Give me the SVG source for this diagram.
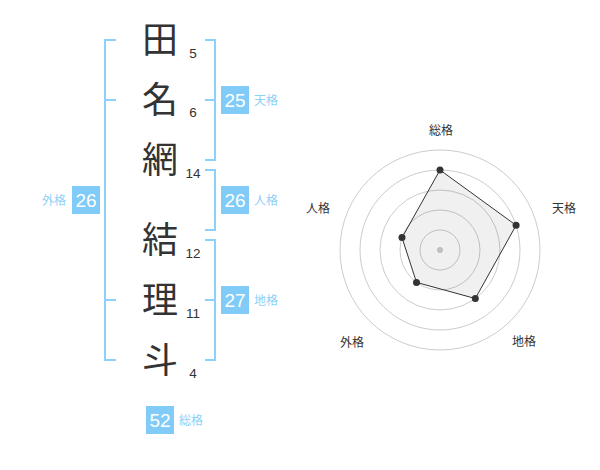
<svg xmlns="http://www.w3.org/2000/svg" width="600" height="470" viewBox="0 0 600 470">
<style>
.kanji{font-family:"Noto Sans CJK JP","Noto Sans CJK SC",sans-serif;font-size:36px;fill:#333;text-anchor:middle}
.num{font-family:"Liberation Sans",Arial,sans-serif;font-size:13.5px;fill:#333;text-anchor:middle}
.br{fill:none;stroke:#8dd0f8;stroke-width:2}
.badge{fill:#80cbf7}
.bt{font-family:"Liberation Sans",Arial,sans-serif;font-size:19px;fill:#fff;text-anchor:middle}
.lab{font-family:"Noto Sans CJK JP",sans-serif;font-size:12px;fill:#8dd0f8}
.ring{fill:none;stroke:#ccc;stroke-width:1}
.rl{font-family:"Noto Sans CJK JP",sans-serif;font-size:12px;fill:#333;text-anchor:middle}
.dot{fill:#333}
</style>
<rect width="600" height="470" fill="#fff"/>
<g id="connectors">
<path class="br" d="M116,40 H105 V360 H116 M105,100 H116 M105,300 H116"/>
<path class="br" d="M205,40 H215 V160 H205 M205,100 H215"/>
<path class="br" d="M205,170 H215 V230 H205"/>
<path class="br" d="M205,240 H215 V360 H205 M205,300 H215"/>
</g>
<g id="name">
<text class="kanji" x="160" y="53">田</text>
<text class="kanji" x="160" y="113">名</text>
<text class="kanji" x="160" y="173">網</text>
<text class="kanji" x="160" y="253">結</text>
<text class="kanji" x="160" y="313">理</text>
<text class="kanji" x="160" y="373">斗</text>
<text class="num" x="193" y="58">5</text>
<text class="num" x="193" y="117">6</text>
<text class="num" x="193" y="178">14</text>
<text class="num" x="193" y="258">12</text>
<text class="num" x="193" y="318">11</text>
<text class="num" x="193" y="378">4</text>
</g>
<g id="tenkaku">
<rect class="badge" x="221" y="86" width="28" height="28"/>
<text class="bt" x="235" y="107">25</text>
<text class="lab" x="254" y="105">天格</text>
</g>
<g id="jinkaku">
<rect class="badge" x="221" y="186" width="28" height="28"/>
<text class="bt" x="235" y="207">26</text>
<text class="lab" x="254" y="205">人格</text>
</g>
<g id="chikaku">
<rect class="badge" x="221" y="286" width="28" height="28"/>
<text class="bt" x="235" y="307">27</text>
<text class="lab" x="254" y="305">地格</text>
</g>
<g id="gaikaku">
<rect class="badge" x="72" y="186" width="28" height="28"/>
<text class="bt" x="86" y="207">26</text>
<text class="lab" x="42" y="205">外格</text>
</g>
<g id="soukaku">
<rect class="badge" x="146" y="406" width="28" height="28"/>
<text class="bt" x="160" y="427">52</text>
<text class="lab" x="179" y="425">総格</text>
</g>
<g id="radar">
<circle class="ring" cx="440" cy="250" r="20"/>
<circle class="ring" cx="440" cy="250" r="40"/>
<circle class="ring" cx="440" cy="250" r="60"/>
<circle class="ring" cx="440" cy="250" r="80"/>
<circle class="ring" cx="440" cy="250" r="100"/>
<circle cx="440" cy="250" r="3" fill="#ccc"/>
<polygon points="440,170 516.1,225.3 475.3,298.5 416.5,282.4 402,237.6" fill="#000" fill-opacity="0.06" stroke="#333" stroke-width="1"/>
<circle class="dot" cx="440" cy="170" r="3.5"/>
<circle class="dot" cx="516.1" cy="225.3" r="3.5"/>
<circle class="dot" cx="475.3" cy="298.5" r="3.5"/>
<circle class="dot" cx="416.5" cy="282.4" r="3.5"/>
<circle class="dot" cx="402" cy="237.6" r="3.5"/>
<text class="rl" x="441" y="135">総格</text>
<text class="rl" x="564" y="213">天格</text>
<text class="rl" x="524" y="346">地格</text>
<text class="rl" x="352" y="347">外格</text>
<text class="rl" x="318" y="213">人格</text>
</g>
</svg>
